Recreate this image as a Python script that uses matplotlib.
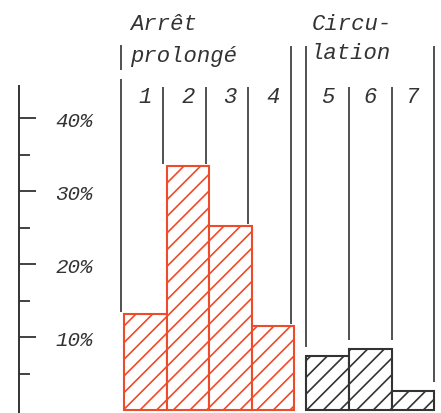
import matplotlib
matplotlib.use("Agg")
import matplotlib.pyplot as plt

# data (percent of cases)
categories = ["1", "2", "3", "4", "5", "6", "7"]
values = [13.2, 33.4, 25.2, 11.5, 7.4, 8.4, 2.6]
groups = [0, 0, 0, 0, 1, 1, 1]
major_ticks = [10, 20, 30, 40]
minor_ticks = [5, 15, 25, 35]
tick_labels = ["10%", "20%", "30%", "40%"]

RED = "#ee4b2b"
INK = "#333333"
GROUP_GAP = 0.28
FONT = "Liberation Mono"

plt.rcParams["hatch.linewidth"] = 1.2

fig = plt.figure(figsize=(4.41, 4.14), dpi=100)
ax = fig.add_axes([0, 0, 1, 1])
ax.set_xlim(-3.41, 6.94)
ax.set_ylim(-0.4, 56.3)

xs = [i + GROUP_GAP * g for i, g in enumerate(groups)]
colors = [RED if g == 0 else INK for g in groups]

for x, v, c in zip(xs, values, colors):
    ax.bar(x, v, width=1.0, bottom=0, facecolor="white", edgecolor=c,
           hatch="//", linewidth=1.5, zorder=2)

for x, lab in zip(xs, categories):
    ax.text(x, 43.0, lab, ha="center", va="center", fontsize=16,
            family=FONT, style="italic", color=INK)

# vertical separators between columns
for g in (0, 1):
    idx = [i for i, gg in enumerate(groups) if gg == g]
    gap = 0.3 if g == 0 else 1.2
    for k in range(len(idx) + 1):
        left = values[idx[k - 1]] if k > 0 else 0
        right = values[idx[k]] if k < len(idx) else 0
        xpos = xs[idx[0]] - 0.5 + k
        if g == 0:
            xpos -= 0.08
        outer = k == 0 or k == len(idx)
        top = 44.2
        if outer:
            top = 45.3 if (g == 0 and k == 0) else 49.8
        ax.vlines(xpos, max(left, right) + gap, top, color=INK, linewidth=1.2)

# small bar in front of "prolongé"
ax.vlines(xs[0] - 0.58, 46.6, 50.0, color=INK, linewidth=1.2)

# group titles
title_kw = dict(ha="left", va="center", fontsize=16, family=FONT,
                style="italic", color=INK)
ax.text(xs[0] - 0.36, 53.0, "Arrêt", **title_kw)
ax.text(xs[0] - 0.36, 48.5, "prolongé", **title_kw)
ax.text(xs[4] - 0.37, 53.0, "Circu-", **title_kw)
ax.text(xs[4] - 0.4, 49.0, "lation", **title_kw)

# y axis drawn as a left spine with inward ticks and labels on its right
for s in ("top", "right", "bottom"):
    ax.spines[s].set_visible(False)
ax.spines["left"].set_position(("axes", 19 / 441))
ax.spines["left"].set_bounds(-0.4, 44.4)
ax.spines["left"].set_linewidth(1.4)
ax.spines["left"].set_color(INK)
ax.set_xticks([])
ax.set_yticks(major_ticks)
ax.set_yticklabels(tick_labels)
ax.set_yticks(minor_ticks, minor=True)
ax.tick_params(axis="y", which="major", direction="in", length=12, width=1.3,
               color=INK, pad=-53, labelsize=15, labelcolor=INK)
ax.tick_params(axis="y", which="minor", direction="in", length=8, width=1.3,
               color=INK)
for t in ax.get_yticklabels():
    t.set_fontfamily(FONT)
    t.set_fontstyle("italic")

fig.savefig("out.png", dpi=100)
